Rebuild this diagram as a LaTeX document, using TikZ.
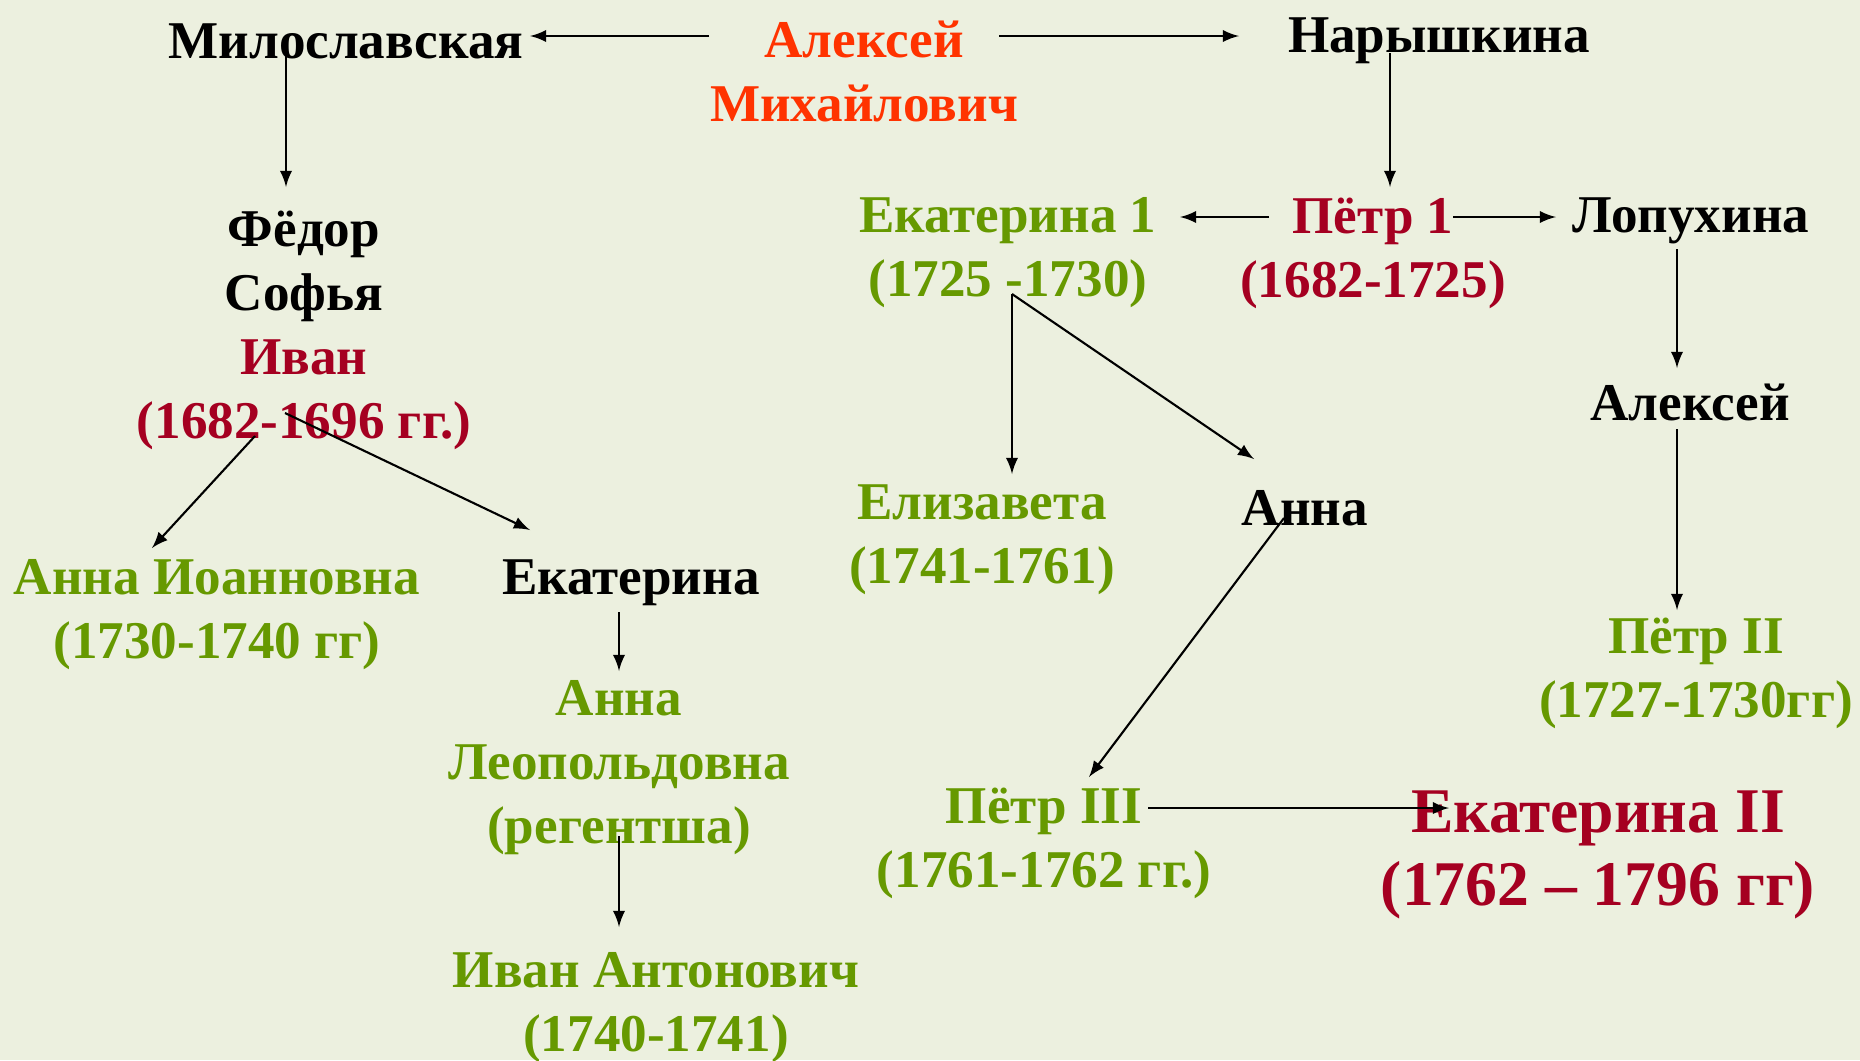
\documentclass[tikz,border=0pt]{standalone}
\usepackage{fontspec}
\setmainfont{Liberation Serif}
\usetikzlibrary{calc}

\definecolor{bgcol}{HTML}{ECF0DF}
\definecolor{tsar}{HTML}{A50021}
\definecolor{queen}{HTML}{669900}
\definecolor{root}{HTML}{FF3300}

\tikzset{
	person/.style = {align=center, inner sep=0pt, font=\fontsize{15.1}{18.2}\selectfont\bfseries},
	bigperson/.style = {align=center, inner sep=0pt, font=\fontsize{18.1}{20.8}\selectfont\bfseries},
	arr/.style = {-latex, line width=0.6pt}
}

\begin{document}
\begin{tikzpicture}[x=0.01cm, y=-0.01cm]

	\fill [bgcol] (0,0) rectangle (1860,1060);
	\useasboundingbox (0,0) rectangle (1860,1060);

	% top row
	\node [person, root] (aleksei) at (864,71) {Алексей\\Михайлович};
	\node [person] (milo) at (346,41) {Милославская};
	\node [person] (nar) at (1439,41) {Нарышкина};

	% Miloslavskaya line
	\node [person] (fedor) at (304,330) {Фёдор\\Софья\\\textcolor{tsar}{Иван}\\\textcolor{tsar}{(1682-1696 гг.)}};
	\node [person, queen] (annaio) at (217,615) {Анна Иоанновна\\(1730-1740 гг)};
	\node [person] (ekat) at (631,583) {Екатерина};
	\node [person, queen] (annaleo) at (619,768) {Анна\\Леопольдовна\\(регентша)};
	\node [person, queen] (ivanant) at (656,1008) {Иван Антонович\\(1740-1741)};

	% Naryshkina line
	\node [person, tsar] (petr1) at (1373,253) {Пётр 1\\(1682-1725)};
	\node [person, queen] (ekat1) at (1008,253) {Екатерина 1\\(1725 -1730)};
	\node [person] (lopuh) at (1691,221) {Лопухина};
	\node [person] (aleks) at (1690,402) {Алексей};
	\node [person, queen] (petr2) at (1696,673) {Пётр II\\(1727-1730гг)};
	\node [person, queen] (eliz) at (982,540) {Елизавета\\(1741-1761)};
	\node [person] (anna) at (1305,508) {Анна};
	\node [person, queen] (petr3) at (1044,843) {Пётр III\\(1761-1762 гг.)};
	\node [bigperson, tsar] (ekat2) at (1598,855) {Екатерина II\\(1762 – 1796 гг)};

	\draw [arr] ($(aleksei)+(-155,-35)$) -- ($(milo)+(184,-5)$);
	\draw [arr] ($(aleksei)+(135,-35)$) -- ($(nar)+(-200,-5)$);

	\draw [arr] ($(milo)+(-60,12)$) -- ($(fedor)+(-18,-143)$);
	\draw [arr] ($(fedor)+(-49,106)$) -- ($(annaio)+(-65,-67)$);
	\draw [arr] ($(fedor)+(-19,83)$) -- ($(ekat)+(-101,-53)$);
	\draw [arr] ($(ekat)+(-12,29)$) -- ($(annaleo)+(0,-97)$);
	\draw [arr] ($(annaleo)+(0,68)$) -- ($(ivanant)+(-37,-81)$);

	\draw [arr] ($(nar)+(-49,12)$) -- ($(petr1)+(17,-66)$);
	\draw [arr] ($(petr1)+(-104,-36)$) -- ($(ekat1)+(172,-36)$);
	\draw [arr] ($(petr1)+(80,-36)$) -- ($(lopuh)+(-135,-4)$);
	\draw [arr] ($(lopuh)+(-14,28)$) -- ($(aleks)+(-13,-34)$);
	\draw [arr] ($(aleks)+(-13,27)$) -- ($(petr2)+(-19,-63)$);

	\draw [arr] ($(ekat1)+(4,41)$) -- ($(eliz)+(30,-66)$);
	\draw [arr] ($(ekat1)+(4,41)$) -- ($(anna)+(-51,-49)$);
	\draw [arr] ($(anna)+(-21,10)$) -- ($(petr3)+(45,-66)$);
	\draw [arr] ($(petr3)+(104,-35)$) -- ($(ekat2)+(-149,-47)$);

\end{tikzpicture}
\end{document}
